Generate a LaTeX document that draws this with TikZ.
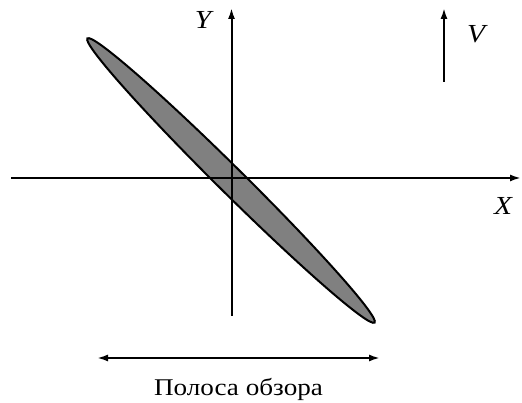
\documentclass[tikz,border=0pt]{standalone}
\usepackage{fontspec}
\setmainfont{Liberation Serif}[FakeStretch=1.13]
\usetikzlibrary{arrows.meta}
\begin{document}
\begin{tikzpicture}[x=1pt,y=1pt,
  axis/.style={line width=2pt,-{Latex[length=11pt,width=7pt]}},
  lbl/.style={font=\fontsize{26}{30}\selectfont\itshape,inner sep=0pt,anchor=base},
  txt/.style={font=\fontsize{24}{28}\selectfont,inner sep=0pt,anchor=base}]
\useasboundingbox (0,0) rectangle (522,403);
\coordinate (c) at (231,222.5);
\filldraw[fill={rgb,255:red,128;green,128;blue,128},line width=2pt,rotate around={-44.7:(c)}] (c) ellipse [x radius=202, y radius=13];
\coordinate (xs) at (11,225);
\coordinate (xe) at (521,225);
\coordinate (ys) at (231.5,87);
\coordinate (ye) at (231.5,395);
\coordinate (vs) at (444,321);
\coordinate (ve) at (444,395);
\coordinate (ws) at (97,45);
\coordinate (we) at (380,45);
\draw[axis] (xs) -- (xe);
\draw[axis] (ys) -- (ye);
\draw[axis] (vs) -- (ve);
\draw[line width=2pt,{Latex[length=11pt,width=7pt]}-{Latex[length=11pt,width=7pt]}] (ws) -- (we);
\node[lbl] (ylab) at (203,374) {Y};
\node[lbl] (vlab) at (476,360) {V};
\node[lbl] (xlab) at (503,188) {X};
\node[txt] (cap) at (238.5,7) {Полоса обзора};
\end{tikzpicture}
\end{document}
